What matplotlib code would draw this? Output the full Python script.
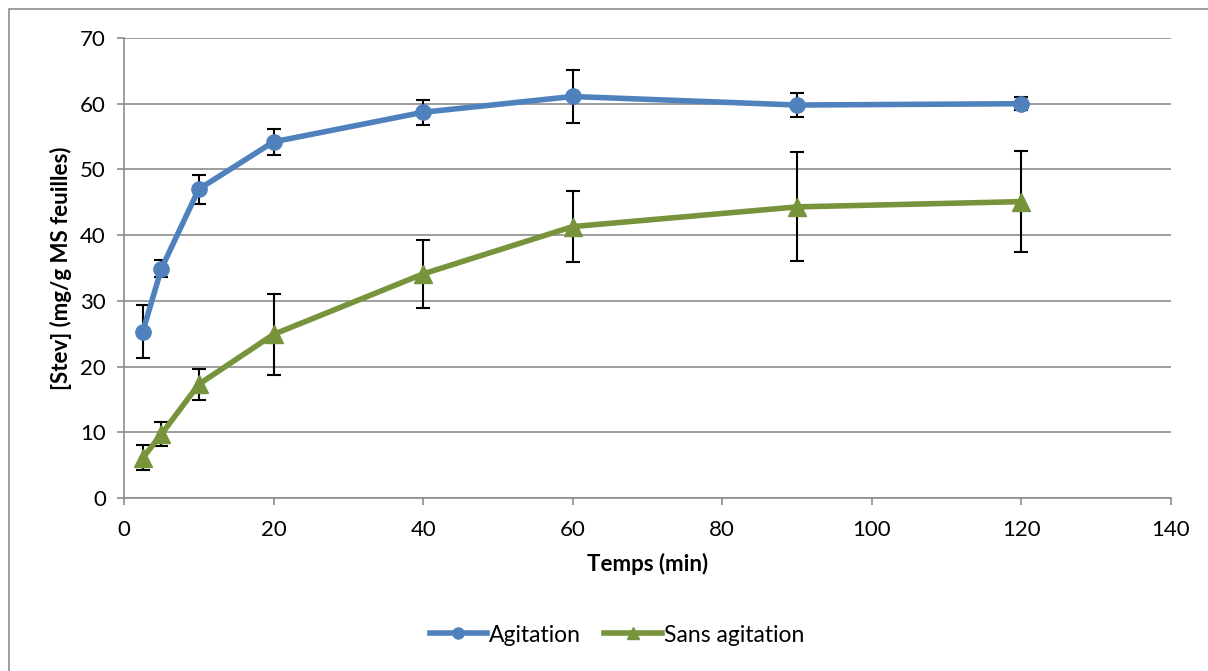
import matplotlib
matplotlib.use("Agg")
import matplotlib.pyplot as plt
from matplotlib.patches import Rectangle
from matplotlib.lines import Line2D

plt.rcParams['font.family'] = ['Lato', 'DejaVu Sans']

temps = [2.5, 5, 10, 20, 40, 60, 90, 120]
agitation = [25.3, 34.9, 47.0, 54.2, 58.7, 61.1, 59.8, 60.0]
agitation_err = [4.0, 1.3, 2.2, 2.0, 1.9, 4.0, 1.8, 1.0]
sans_agitation = [6.1, 9.7, 17.3, 24.9, 34.1, 41.3, 44.3, 45.1]
sans_agitation_err = [1.9, 1.8, 2.4, 6.2, 5.2, 5.4, 8.3, 7.7]

xticks = [0, 20, 40, 60, 80, 100, 120, 140]
yticks = [0, 10, 20, 30, 40, 50, 60, 70]

fig = plt.figure(figsize=(12.08, 6.71), dpi=100)
ax = fig.add_axes([124/1208, 1-498/671, (1171-124)/1208, (498-38)/671])

fig.patches.append(Rectangle((9/1208, -0.05), 1.2, 1.05 - 9/671, transform=fig.transFigure,
                             fill=False, edgecolor='#8c8c8c', linewidth=1.2, zorder=0))

blue = '#4f81bd'
green = '#77933c'

ax.errorbar(temps, agitation, yerr=agitation_err, color=blue, linewidth=4,
            marker='o', markersize=11, ecolor='black', elinewidth=1.5, capsize=5,
            capthick=1.5, zorder=3)
ax.errorbar(temps, sans_agitation, yerr=sans_agitation_err, color=green, linewidth=4,
            marker='^', markersize=12.5, ecolor='black', elinewidth=1.5, capsize=5,
            capthick=1.5, zorder=3)

ax.set_xlim(0, 140)
ax.set_ylim(0, 70)
ax.set_xticks(xticks)
ax.set_yticks(yticks)
ax.grid(axis='y', color='#8c8c8c', linewidth=1.2)
ax.set_axisbelow(True)
for s in ['top', 'right']:
    ax.spines[s].set_visible(False)
for s in ['left', 'bottom']:
    ax.spines[s].set_color('#8c8c8c')
    ax.spines[s].set_linewidth(1.2)
ax.tick_params(axis='both', colors='#8c8c8c', length=5, width=1.2, labelsize=16,
               labelcolor='black')
ax.tick_params(axis='x', pad=11)
ax.tick_params(axis='y', pad=8)
ax.set_xlabel('Temps (min)', fontsize=16, fontweight='bold', labelpad=9)
ax.set_ylabel('[Stev] (mg/g MS feuilles)', fontsize=16, fontweight='bold', labelpad=6)

handles = [
    Line2D([], [], color=blue, linewidth=4, marker='o', markersize=8),
    Line2D([], [], color=green, linewidth=4, marker='^', markersize=8),
]
labels = ['Agitation', 'Sans agitation']
ax.legend(handles, labels, loc='center',
          bbox_to_anchor=((617-124)/1047, (1-635/671 - (1-498/671)) / ((498-38)/671)),
          ncol=2, frameon=False, fontsize=16.5, handlelength=2.5, columnspacing=1.0,
          handletextpad=0.1)

fig.savefig('out.png', dpi=100)
